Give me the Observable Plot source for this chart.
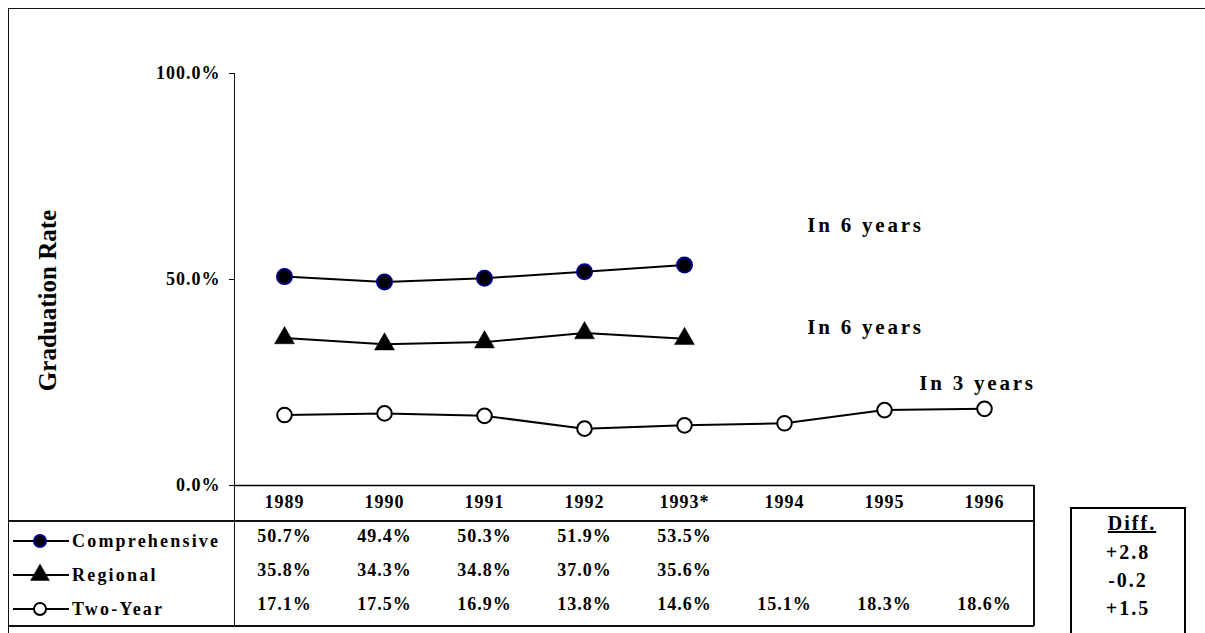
<!DOCTYPE html>
<html><head><meta charset="utf-8">
<script src="https://cdn.jsdelivr.net/npm/d3@7"></script>
<script src="https://cdn.jsdelivr.net/npm/@observablehq/plot@0.6"></script>
<style>
html,body{margin:0;background:#fff;overflow:hidden;}
#wrap{position:relative;width:1205px;height:633px;overflow:hidden;font-family:"Liberation Serif","Times New Roman",serif;font-weight:bold;color:#000;background:#fff;}
#wrap > svg{position:absolute;left:0;top:0;}
.ln{position:absolute;background:#111;}
.lg{position:absolute;font-size:18px;line-height:24px;height:24px;letter-spacing:2.2px;white-space:nowrap;}
.df{position:absolute;font-size:20px;line-height:26px;height:26px;letter-spacing:2px;text-align:center;white-space:nowrap;}
#frame{position:absolute;left:8px;top:8px;width:1300px;height:700px;border-top:1.5px solid #111;border-left:1.5px solid #111;}
</style></head><body><div id="wrap"><div id="frame"></div></div>
<script>
const years = ["1989","1990","1991","1992","1993*","1994","1995","1996"];
const seriesNames = ["Comprehensive","Regional","Two-Year"];
const comprehensive = [50.7,49.4,50.3,51.9,53.5];
const regional = [35.8,34.3,34.8,37.0,35.6];
const twoYear = [17.1,17.5,16.9,13.8,14.6,15.1,18.3,18.6];
const diffs = [2.8,-0.2,1.5];
const notes = ["In 6 years","In 6 years","In 3 years"];
const yTicks = [0,50,100];
const yTitle = "Graduation Rate";
const diffTitle = "Diff.";

const seriesValues = [comprehensive, regional, twoYear];
const data = seriesValues.map((vals,i)=>vals.map((v,j)=>({series:seriesNames[i], year:years[j], value:v})));
const flat = data.flat();

const styles = [
  {symbol:"circle", fill:"#000", stroke:"#000080", r:7.5, strokeWidth:2},
  {symbol:"triangle", fill:"#000", stroke:"#000", r:7.4, strokeWidth:0.5},
  {symbol:"circle", fill:"#fff", stroke:"#000", r:7.3, strokeWidth:2}
];
const noteOffsets = [{dx:181,dy:-40},{dx:181,dy:-12},{dx:-7,dy:-26}];
const rowDy = [56, 90, 124];

const marks = [
  Plot.ruleY([0], {stroke:"#000", strokeWidth:1.5}),
  Plot.axisY({ticks:yTicks, tickFormat:d=>d.toFixed(1)+"%", tickSize:5, tickPadding:9, fontSize:18, label:null}),
  Plot.axisX({tickSize:0, tickPadding:10, fontSize:18, label:null}),
  Plot.lineY(flat, {x:"year", y:"value", z:"series", stroke:"#000", strokeWidth:2}),
  Plot.text([yTitle], {text:d=>d, frameAnchor:"left", textAnchor:"middle", rotate:-90, dx:-187, dy:21, fontSize:25})
];
data.forEach((d,i)=>{
  const s = styles[i];
  marks.push(Plot.dot(d, {x:"year", y:"value", symbol:s.symbol, r:s.r, fill:s.fill, stroke:s.stroke, strokeWidth:s.strokeWidth}));
  marks.push(Plot.text([d[d.length-1]], {x:"year", y:"value", text:()=>notes[i], textAnchor:"middle", dx:noteOffsets[i].dx, dy:noteOffsets[i].dy, fontSize:21}));
  marks.push(Plot.text(d, {x:"year", text:r=>r.value.toFixed(1)+"%", frameAnchor:"bottom", textAnchor:"middle", dy:rowDy[i], fontSize:18}));
});

const plot = Plot.plot({
  width:1205, height:633,
  marginLeft:234, marginRight:171, marginTop:73, marginBottom:148,
  x:{type:"point", domain:years, padding:0.5, label:null},
  y:{domain:[0,100], label:null},
  style:{fontFamily:"'Liberation Serif','Times New Roman',serif", fontWeight:"bold", fontSize:"18px", letterSpacing:"1px", color:"#000", background:"transparent", overflow:"hidden"},
  marks
});
d3.select(plot).selectAll("text").each(function(){
  const t = this.textContent;
  if (notes.includes(t)) this.style.letterSpacing = "2.8px";
  if (t === yTitle) this.style.letterSpacing = "0px";
});

const wrap = document.getElementById("wrap");
wrap.appendChild(plot);

const xs = plot.scale("x"), ys = plot.scale("y");
const L = xs.range[0], R = xs.range[1], B = ys.range[0], T = ys.range[1];
function line(left, top, w, h){ const e=document.createElement("div"); e.className="ln"; Object.assign(e.style,{left:left+"px",top:top+"px",width:w+"px",height:h+"px"}); wrap.appendChild(e); return e; }
// y axis line continuing as table divider
line(L-0.5, T, 1.2, B+141-T);
// table lines
line(8, B+36-0.75, R-8, 1.5);
line(8, B+141-0.75, R-8, 1.5);
line(R-0.75, B, 1.5, 141);

// legend rows
const rowY = rowDy.map(d=>B+d);
seriesNames.forEach((name,i)=>{
  const y = rowY[i];
  const s = styles[i];
  const sv = d3.create("svg").attr("width",60).attr("height",24)
    .style("position","absolute").style("left","12px").style("top",(y-12)+"px");
  sv.append("line").attr("x1",1).attr("x2",57).attr("y1",12).attr("y2",12).attr("stroke","#000").attr("stroke-width",2);
  const sym = s.symbol==="triangle" ? d3.symbolTriangle : d3.symbolCircle;
  const rr = s.symbol==="triangle" ? 7 : 6;
  sv.append("path").attr("transform","translate(28,12)").attr("d", d3.symbol(sym, Math.PI*rr*rr)())
    .attr("fill", s.fill).attr("stroke", s.stroke).attr("stroke-width", s.symbol==="triangle"?0.5:2);
  wrap.appendChild(sv.node());
  const t = document.createElement("div"); t.className="lg"; t.textContent=name;
  t.style.left="72px"; t.style.top=(y-12)+"px"; wrap.appendChild(t);
});

// Diff box
const box = document.createElement("div");
Object.assign(box.style,{position:"absolute",left:(R+36)+"px",top:(B+22)+"px",width:"112px",height:"200px",border:"2px solid #000",boxSizing:"content-box"});
wrap.appendChild(box);
const dRows = [B+38, B+67, B+95, B+123];
const dTexts = [diffTitle, ...diffs.map(d=>(d>0?"+":"")+d.toFixed(1))];
dTexts.forEach((txt,i)=>{
  const e=document.createElement("div"); e.className="df"; e.textContent=txt;
  Object.assign(e.style,{left:(R+36)+"px",width:"116px",top:(dRows[i]-13)+"px"});
  if(i===0){ e.style.textDecoration="underline"; e.style.left=(R+40)+"px"; }
  wrap.appendChild(e);
});
</script></body></html>
